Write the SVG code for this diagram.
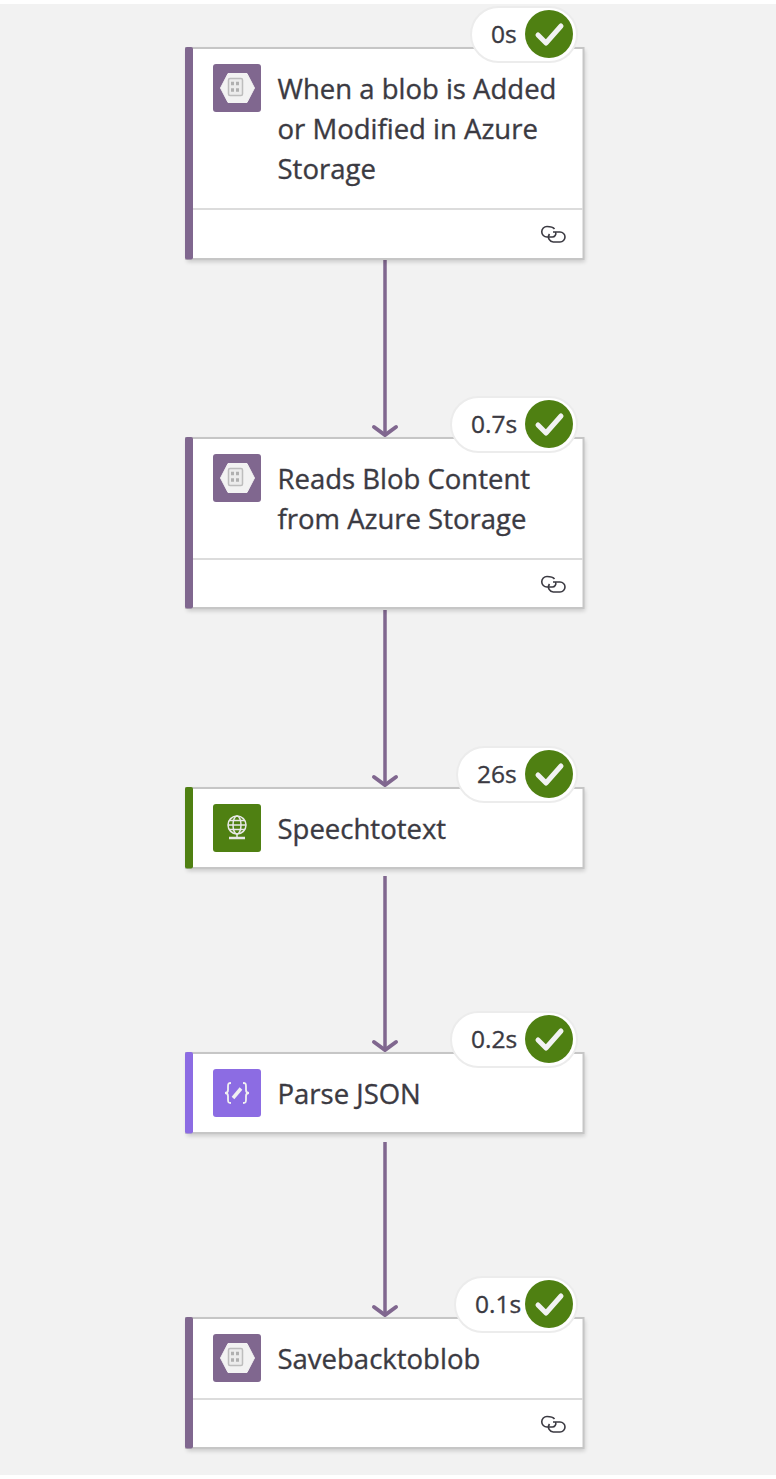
<svg xmlns="http://www.w3.org/2000/svg" width="776" height="1479" viewBox="0 0 776 1479" xmlns:xlink="http://www.w3.org/1999/xlink">
<style>
.card{fill:#fff;stroke:#c6c6c6;stroke-width:2}
.shadow{fill:#000;opacity:.16}
.div{stroke:#dcdcdc;stroke-width:2}
.t{font-family:"Open Sans","Noto Sans",sans-serif;font-size:27.5px;fill:#3b3a42;stroke:#3b3a42;stroke-width:.35}
.d{font-family:"Open Sans","Noto Sans",sans-serif;font-size:24.5px;fill:#3b3a42;stroke:#3b3a42;stroke-width:.35}
.pill{fill:#fff;stroke:#ececec;stroke-width:2}
.ok{fill:#4f8012}
.chk{fill:none;stroke:#f2f2f2;stroke-width:5;stroke-linecap:round;stroke-linejoin:round}
.con{stroke:#80678f;stroke-width:3.5;fill:none}
.head{stroke:#80678f;stroke-width:4;fill:none;stroke-linecap:round;stroke-linejoin:miter}
.lnk{fill:none;stroke:#3b3a42;stroke-width:1.6}
</style>
<defs>
<filter id="blur" x="-5%" y="-10%" width="110%" height="120%"><feGaussianBlur stdDeviation="2"/></filter>
<g id="blob">
<rect width="48" height="48" rx="3" fill="#80678f"/>
<path d="M7.500 24 L15 9.500 H34 L41.500 24 L34 38.500 H15Z" fill="#f2f2f2" stroke="#f2f2f2" stroke-linejoin="round"/>
<rect x="15.500" y="14.500" width="14" height="17" rx="1.500" fill="#ececec" stroke="#bdbdbd" stroke-width="1.500"/>
<path d="M18 19.500h3M23 19.500h3M18 26h3M23 26h3" stroke="#b0b0b0" stroke-width="3.500" fill="none"/>
</g>
<g id="link">
<path class="lnk" d="M16.500 5 C15 3 13 2.500 9 2.500 a5 5 0 0 0 0 10.500 H14 a3.500 3.500 0 0 0 3.500-5"/>
<path class="lnk" d="M15 8 H22 a5 5 0 0 1 0 10 H16 a5 5 0 0 1-4.500-8"/>
</g>
<path id="arrowhead" class="head" d="M-11-8 L0 0 L11-8"/>
</defs>
<rect width="776" height="1479" fill="#fff"/>
<rect y="4" width="776" height="1471" fill="#f2f2f2"/>
<g id="connectors">
<path class="con" d="M385 260V434M385 610V784M385 876V1049M385 1142V1314"/>
<use xlink:href="#arrowhead" href="#arrowhead" x="385" y="435"/>
<use xlink:href="#arrowhead" href="#arrowhead" x="385" y="785"/>
<use xlink:href="#arrowhead" href="#arrowhead" x="385" y="1050"/>
<use xlink:href="#arrowhead" href="#arrowhead" x="385" y="1315"/>
</g>
<g id="node-trigger">
<rect class="shadow" filter="url(#blur)" x="187" y="50" width="398" height="212"/>
<rect class="card" x="186" y="48" width="397.500" height="211"/>
<rect x="185" y="47" width="8" height="212.500" rx="2" fill="#80678f"/>
<use xlink:href="#blob" href="#blob" x="213" y="64"/>
<text class="t" x="277.500" y="99">When a blob is Added</text>
<text class="t" x="277.500" y="139">or Modified in Azure</text>
<text class="t" x="277.500" y="179">Storage</text>
<path class="div" d="M193 209H583"/>
<use xlink:href="#link" href="#link" x="538" y="224"/>
<rect class="pill" x="471" y="7" width="106" height="55" rx="27.500"/>
<text class="d" x="491" y="43">0s</text>
<circle class="ok" cx="549" cy="34" r="24"/>
<path class="chk" d="M538 35L546 43L561 26"/>
</g>
<g id="node-read">
<rect class="shadow" filter="url(#blur)" x="187" y="440" width="398" height="171"/>
<rect class="card" x="186" y="438" width="397.500" height="170"/>
<rect x="185" y="437" width="8" height="171.500" rx="2" fill="#80678f"/>
<use xlink:href="#blob" href="#blob" x="213" y="454"/>
<text class="t" x="277.500" y="489">Reads Blob Content</text>
<text class="t" x="277.500" y="529">from Azure Storage</text>
<path class="div" d="M193 559H583"/>
<use xlink:href="#link" href="#link" x="538" y="574"/>
<rect class="pill" x="451" y="397" width="126" height="55" rx="27.500"/>
<text class="d" x="471" y="433">0.7s</text>
<circle class="ok" cx="549" cy="424" r="24"/>
<path class="chk" d="M538 425L546 433L561 416"/>
</g>
<g id="node-speech">
<rect class="shadow" filter="url(#blur)" x="187" y="790" width="398" height="81"/>
<rect class="card" x="186" y="788" width="397.500" height="80"/>
<rect x="185" y="787" width="8" height="81.500" rx="2" fill="#4f8012"/>
<rect x="213" y="804" width="48" height="48" rx="3" fill="#4f8012"/>
<g fill="none" stroke="#e8e8e8" stroke-width="1.500">
<circle cx="237" cy="825" r="9"/>
<ellipse cx="237" cy="825" rx="4" ry="9"/>
<path d="M228 825H246M229.500 820.500H244.500M229.500 829.500H244.500M237 834V838"/>
<path d="M229 838H245" stroke-width="2.500"/>
</g>
<text class="t" x="277.500" y="839">Speechtotext</text>
<rect class="pill" x="457" y="747" width="120" height="55" rx="27.500"/>
<text class="d" x="477" y="783">26s</text>
<circle class="ok" cx="549" cy="774" r="24"/>
<path class="chk" d="M538 775L546 783L561 766"/>
</g>
<g id="node-parse">
<rect class="shadow" filter="url(#blur)" x="187" y="1055" width="398" height="81"/>
<rect class="card" x="186" y="1053" width="397.500" height="80"/>
<rect x="185" y="1052" width="8" height="81.500" rx="2" fill="#8c6ce3"/>
<rect x="213" y="1069" width="48" height="48" rx="3" fill="#8c6ce3"/>
<g fill="none" stroke="#f0f0f0" stroke-width="1.800">
<path d="M231 1083c-3 0-3 1-3 4v3c0 2-1 3-3 3c2 0 3 1 3 3v3c0 3 0 4 3 4"/>
<path d="M243 1083c3 0 3 1 3 4v3c0 2 1 3 3 3c-2 0-3 1-3 3v3c0 3 0 4-3 4"/>
<path d="M233 1098L241 1088.500" stroke-width="3.500"/>
</g>
<text class="t" x="277.500" y="1104">Parse JSON</text>
<rect class="pill" x="451" y="1012" width="126" height="55" rx="27.500"/>
<text class="d" x="471" y="1048">0.2s</text>
<circle class="ok" cx="549" cy="1039" r="24"/>
<path class="chk" d="M538 1040L546 1048L561 1031"/>
</g>
<g id="node-save">
<rect class="shadow" filter="url(#blur)" x="187" y="1320" width="398" height="131"/>
<rect class="card" x="186" y="1318" width="397.500" height="130"/>
<rect x="185" y="1317" width="8" height="131.500" rx="2" fill="#80678f"/>
<use xlink:href="#blob" href="#blob" x="213" y="1334"/>
<text class="t" x="277.500" y="1369">Savebacktoblob</text>
<path class="div" d="M193 1399H583"/>
<use xlink:href="#link" href="#link" x="538" y="1414"/>
<rect class="pill" x="455" y="1277" width="122" height="55" rx="27.500"/>
<text class="d" x="475" y="1313">0.1s</text>
<circle class="ok" cx="549" cy="1304" r="24"/>
<path class="chk" d="M538 1305L546 1313L561 1296"/>
</g>
</svg>
